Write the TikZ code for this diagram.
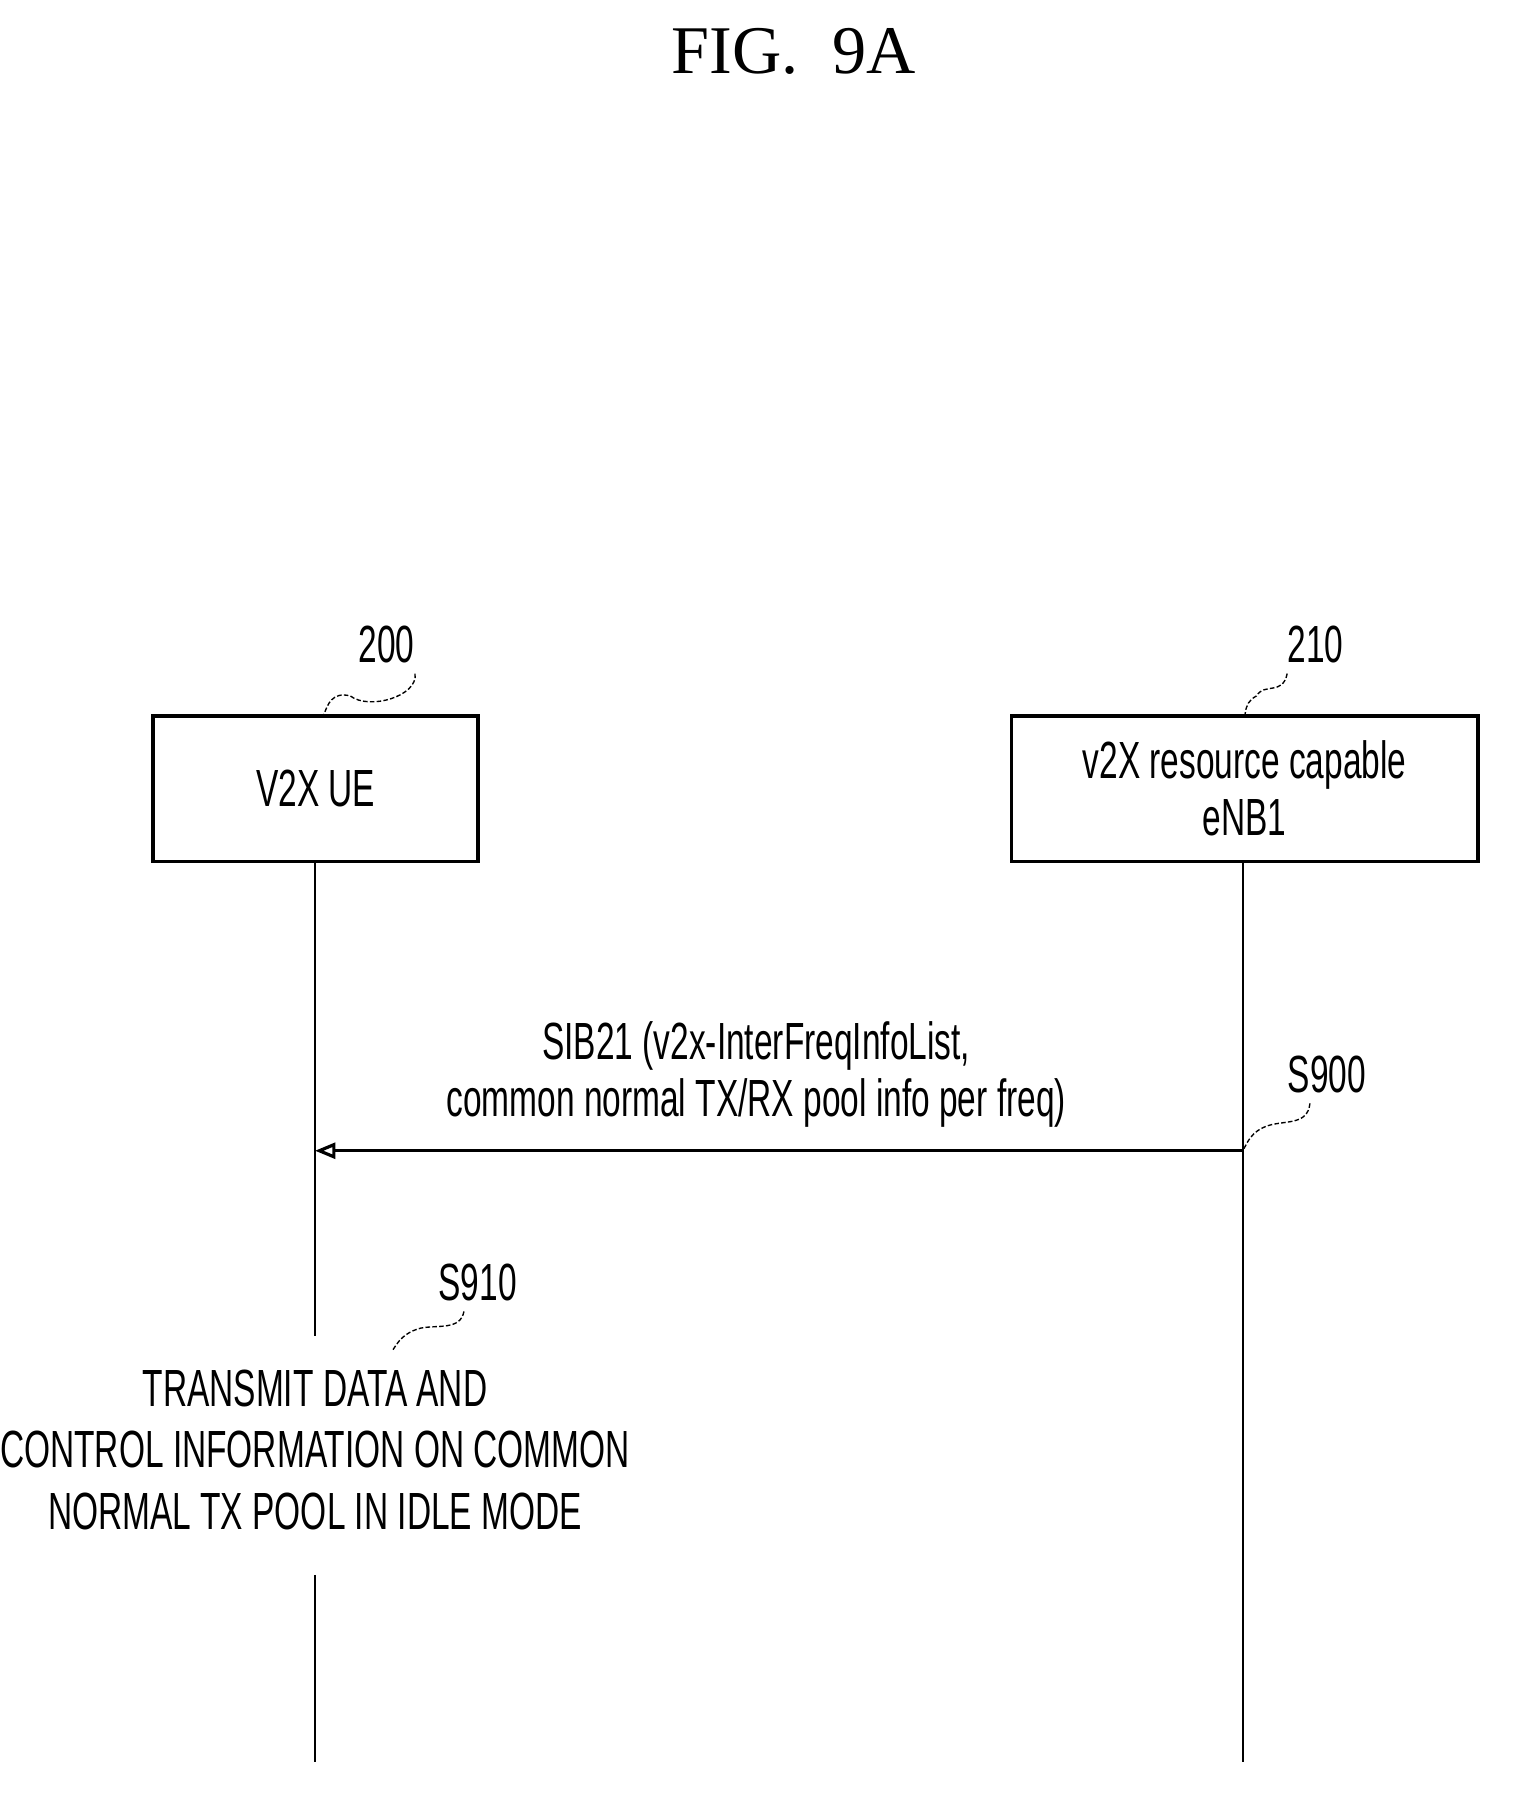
\documentclass[tikz,border=0pt]{standalone}
\usepackage{fontspec}
\setmainfont{Liberation Sans}[FakeStretch=0.64]
\newfontfamily\titlefont{Liberation Serif}
\usetikzlibrary{arrows.meta}
\begin{document}
\begin{tikzpicture}[x=0.5pt,y=-0.5pt,
  box/.style={draw,line width=1.6pt,minimum width=143pt,minimum height=64pt,anchor=north west,align=center,font=\fontsize{23}{27}\selectfont},
  lbl/.style={font=\fontsize{23}{27}\selectfont,align=center},
  life/.style={line width=0.9pt},
  sq/.style={line width=0.6pt,dashed,dash pattern=on 2pt off 1pt}]
\useasboundingbox (0,0) rectangle (1330,1583);
\node[font=\titlefont\fontsize{30}{34}\selectfont] (title) at (698,45) {FIG.\ \ 9A};
\node[box] (ue) at (133,628) {V2X UE};
\node[box,minimum width=205pt] (enb) at (888,628) {v2X resource capable\\[-2pt]eNB1};
\node[lbl] (n200) at (340,567) {200};
\node[lbl] (n210) at (1157,567) {210};
\draw[sq] (n200.south) ++(25,2) .. controls (368,612) and (325,625) .. (308,612) .. controls (292,608) and (288,620) .. (285,628);
\draw[sq] (n210.south) ++(-25,2) .. controls (1128,612) and (1112,600) .. (1105,612) .. controls (1098,616) and (1096,620) .. (1095,628);
\coordinate (ueE) at (277,1550);
\coordinate (enbE) at (1093,1550);
\coordinate (ueB1) at (277,1175);
\coordinate (ueB2) at (277,1385);
\draw[life] (ue.south -| ueB1) -- (ueB1);
\draw[life] (ueB2) -- (ueE);
\draw[life] (enb.south -| enbE) -- (enbE);
\coordinate (m1) at (1093,1012);
\coordinate (m2) at (277,1012);
\draw[line width=1.4pt,-{Triangle[open,length=9pt,width=7pt]}] (m1) -- (m2);
\node[lbl] (msg) at (665,945) {SIB21 (v2x-InterFreqInfoList,\\[-2pt]common normal TX/RX pool info per freq)};
\node[lbl] (s900) at (1167,945) {S900};
\draw[sq] (s900.south) ++(-15,2) .. controls (1150,990) and (1130,985) .. (1115,990) .. controls (1100,995) and (1097,1005) .. (m1);
\node[lbl] (s910) at (420,1128) {S910};
\draw[sq] (s910.south) ++(-12,2) .. controls (405,1170) and (385,1165) .. (370,1168) .. controls (355,1172) and (350,1180) .. (345,1188);
\node[lbl] (act) at (277,1275) {TRANSMIT DATA AND\\[0pt]CONTROL INFORMATION ON COMMON\\[0pt]NORMAL TX POOL IN IDLE MODE};
\end{tikzpicture}
\end{document}
